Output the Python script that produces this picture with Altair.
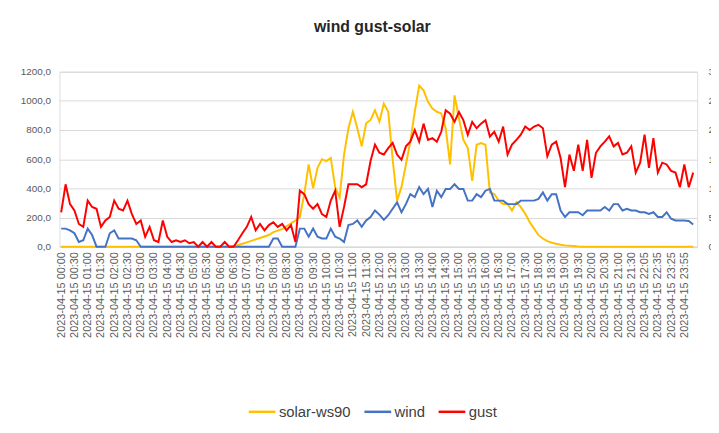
import json
import altair as alt
import pandas as pd

# ---------------- data (10-minute steps, 2023-04-15) ----------------
solar = [
    0, 0, 0, 0, 0, 0,
    0, 0, 0, 0, 0, 0,
    0, 0, 0, 0, 0, 0,
    0, 0, 0, 0, 0, 0,
    0, 0, 0, 0, 0, 0,
    0, 0, 0, 0, 0, 0,
    0, 0, 0, 5, 10, 20,
    30, 40, 50, 60, 70, 80,
    100, 110, 120, 140, 160, 180,
    203, 361, 564, 400, 541, 600,
    587, 609, 406, 338, 632, 812,
    925, 812, 688, 846, 869, 936,
    857, 981, 925, 600, 316, 410,
    564, 722, 925, 1105, 1072, 993,
    948, 925, 914, 812, 564, 1038,
    880, 733, 677, 451, 699, 711,
    699, 372, 361, 316, 293, 293,
    248, 305, 271, 226, 169, 124,
    79, 56, 38, 27, 20, 14,
    9, 7, 5, 2, 0, 0,
    0, 0, 0, 0, 0, 0,
    0, 0, 0, 0, 0, 0,
    0, 0, 0, 0, 0, 0,
    0, 0, 0, 0, 0, 0,
]

wind = [
    3.1, 3.1, 2.8, 2.3, 0.8, 1.1,
    3.1, 2.0, 0, 0, 0, 2.3,
    2.8, 1.4, 1.4, 1.4, 1.4, 1.1,
    0, 0, 0, 0, 0, 0,
    0, 0, 0, 0, 0, 0,
    0, 0, 0, 0, 0, 0,
    0, 0, 0, 0, 0, 0,
    0, 0, 0, 0, 0, 0,
    1.4, 1.4, 0, 0, 0, 0,
    3.1, 3.1, 1.7, 3.1, 1.7, 1.4,
    1.4, 3.1, 1.7, 1.4, 0.8, 3.7,
    3.9, 4.5, 3.4, 4.5, 5.1, 6.2,
    5.5, 4.6, 5.4, 6.5, 7.6, 5.9,
    7.3, 9.0, 8.5, 10.2, 9.0, 9.9,
    6.8, 9.6, 8.5, 9.9, 9.9, 10.7,
    9.9, 9.9, 7.9, 7.9, 9.0, 8.5,
    9.6, 9.9, 7.9, 7.9, 7.9, 7.3,
    7.3, 7.3, 7.9, 7.9, 7.9, 7.9,
    8.2, 9.3, 7.9, 9.0, 9.0, 6.2,
    5.1, 5.9, 5.9, 5.9, 5.4, 6.2,
    6.2, 6.2, 6.2, 6.8, 6.2, 7.3,
    7.3, 6.2, 6.5, 6.2, 6.2, 5.9,
    5.9, 5.6, 5.9, 5.1, 5.1, 5.9,
    4.8, 4.5, 4.5, 4.5, 4.4, 3.8,
]

gust = [
    5.9, 10.7, 7.3, 6.2, 3.9, 3.4,
    7.9, 6.8, 6.5, 3.4, 4.5, 5.1,
    7.9, 6.5, 6.2, 7.9, 5.6, 3.9,
    4.5, 1.7, 3.4, 1.1, 0.8, 4.5,
    1.7, 0.8, 1.1, 0.8, 1.1, 0.6,
    0.8, 0.0, 0.8, 0.0, 0.8, 0.0,
    0.0, 0.8, 0.0, 0.0, 1.1, 2.3,
    3.4, 5.1, 2.8, 3.9, 2.8, 3.7,
    4.2, 3.4, 3.9, 2.8, 3.7, 0.8,
    9.6, 9.0, 7.3, 6.5, 7.3, 5.6,
    5.1, 7.9, 9.6, 3.4, 6.8, 10.7,
    10.7, 10.7, 10.2, 10.7, 14.7, 17.5,
    16.1, 15.8, 16.9, 17.8, 15.8, 14.9,
    17.2, 18.0, 20.0, 18.0, 21.1, 18.3,
    18.6, 18.0, 19.7, 23.4, 22.8, 21.4,
    23.1, 21.7, 19.2, 21.4, 20.3, 21.1,
    21.7, 18.9, 19.7, 18.0, 20.6, 15.8,
    17.5, 18.3, 19.2, 20.6, 20.0, 20.6,
    20.9, 20.3, 15.5, 17.5, 18.0, 15.2,
    10.2, 15.8, 13.0, 17.5, 13.0, 18.3,
    11.8, 16.1, 17.2, 18.0, 18.9, 17.2,
    17.8, 15.8, 16.1, 17.2, 12.7, 14.4,
    19.2, 13.5, 18.6, 12.7, 14.4, 14.1,
    13.0, 12.7, 10.2, 14.1, 10.2, 12.7,
]

tick_times = [
    "00:00", "00:30", "01:00", "01:30", "02:00", "02:30", "03:00", "03:30",
    "04:00", "04:30", "05:00", "05:30", "06:00", "06:30", "07:00", "07:30",
    "08:00", "08:30", "09:00", "09:30", "10:00", "10:30", "11:00", "11:30",
    "12:00", "12:30", "13:00", "13:30", "14:00", "14:30", "15:00", "15:30",
    "16:00", "16:30", "17:00", "17:30", "18:00", "18:30", "19:00", "19:30",
    "20:00", "20:30", "21:00", "21:30", "22:05", "22:35", "23:25", "23:55",
]
tick_labels = ["2023-04-15 " + t for t in tick_times]

series_names = ["solar-ws90", "wind", "gust"]
series_colors = ["#FFC000", "#4472C4", "#FF0000"]

# ---------------- build tables ----------------
n = len(solar)
df_solar = pd.DataFrame({"k": range(n), "v": solar, "series": "solar-ws90"})
df_wind = pd.DataFrame({"k": range(n), "v": wind, "series": "wind"})
df_gust = pd.DataFrame({"k": range(n), "v": gust, "series": "gust"})

tick_values = [3 * i for i in range(len(tick_labels))]
label_expr = json.dumps(tick_labels) + "[round(datum.value / 3)]"

FONT = "Liberation Sans"
GRAY = "#595959"

x_enc = alt.X(
    "k:Q",
    scale=alt.Scale(domain=[-0.4, 143.9], nice=False, zero=False),
    axis=alt.Axis(
        values=tick_values,
        labelExpr=label_expr,
        labelAngle=270,
        labelFontSize=11,
        labelColor=GRAY,
        labelFont=FONT,
        labelPadding=5,
        labelOverlap=False,
        ticks=False,
        grid=False,
        domainColor="#D9D9D9",
        title=None,
    ),
)

color_enc = alt.Color(
    "series:N",
    scale=alt.Scale(domain=series_names, range=series_colors),
    title=None,
    legend=alt.Legend(
        orient="none",
        direction="horizontal",
        legendX=190,
        legendY=329,
        symbolType="stroke",
        symbolSize=729,
        symbolStrokeWidth=2.5,
        labelFontSize=15,
        labelFont=FONT,
        labelColor="#404040",
        labelOffset=2,
        columnPadding=8,
    ),
)

solar_layer = alt.Chart(df_solar).mark_line(strokeWidth=2).encode(
    x=x_enc,
    y=alt.Y(
        "v:Q",
        scale=alt.Scale(domain=[0, 1200], nice=False),
        axis=alt.Axis(
            values=[0, 200, 400, 600, 800, 1000, 1200],
            labelExpr="replace(format(datum.value, '.1f'), '.', ',')",
            labelFontSize=10,
            labelFont=FONT,
            labelColor=GRAY,
            labelPadding=9,
            ticks=False,
            domain=False,
            gridColor="#D9D9D9",
            title=None,
        ),
    ),
    color=color_enc,
)

y_right = alt.Y(
    "v:Q",
    scale=alt.Scale(domain=[0, 30], nice=False),
    axis=alt.Axis(
        orient="right",
        values=[0, 5, 10, 15, 20, 25, 30],
        labelFontSize=10,
        labelFont=FONT,
        labelColor=GRAY,
        labelPadding=11,
        labelAlign="left",
        ticks=False,
        domain=False,
        grid=False,
        title=None,
    ),
)

wind_layer = alt.Chart(df_wind).mark_line(strokeWidth=2).encode(
    x=x_enc, y=y_right, color=color_enc
)
gust_layer = alt.Chart(df_gust).mark_line(strokeWidth=2).encode(
    x=x_enc, y=y_right, color=color_enc
)

right = alt.layer(wind_layer, gust_layer)

chart = (
    alt.layer(solar_layer, right)
    .resolve_scale(y="independent")
    .properties(
        width=645,
        height=177,
        title=alt.TitleParams(
            "wind gust-solar",
            font=FONT,
            fontSize=16,
            fontWeight="bold",
            color="#262626",
            anchor="middle",
            dx=-6,
            offset=32,
        ),
        autosize=alt.AutoSizeParams(type="none"),
        padding={"left": 52, "top": 62, "right": 14, "bottom": 186},
    )
    .configure_view(stroke=None)
    .configure(background="white")
)

chart.save("out.html", embed_options={"renderer": "svg", "actions": False})
